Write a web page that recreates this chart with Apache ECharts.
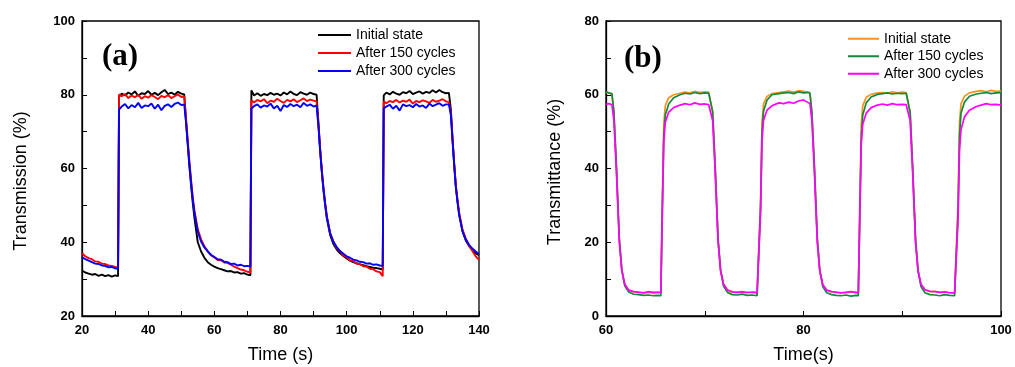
<!DOCTYPE html>
<html><head><meta charset="utf-8">
<script src="https://cdn.jsdelivr.net/npm/echarts@6/dist/echarts.min.js"></script>
<style>html,body{margin:0;padding:0;background:#fff}#c{width:1015px;height:367px}</style>
</head><body><div id="c"></div>
<script>
// ---------- Panel (a) ----------
const timeA = [20,21,22,23,24,25,26,27,28,29,30,30.9,31.2,
  32,33,34,35,36,37,38,39,40,41,42,43,44,45,46,47,48,49,50,50.9,
  51.5,52,52.5,53,53.5,54,
  55,56,57,58,59,60,61,62,63,64,65,66,67,68,69,70,70.9,71.2,
  72,73,74,75,76,77,78,79,80,81,82,83,84,85,86,87,88,89,90,90.9,
  91.5,92,92.5,93,93.5,94,
  95,96,97,98,99,100,101,102,103,104,105,106,107,108,109,110,110.9,111.2,
  112,113,114,115,116,117,118,119,120,121,122,123,124,125,126,127,128,129,130,130.9,
  131.5,132,132.5,133,133.5,134,
  135,136,137,138,139,140];
const initialA = [32.3,31.8,31.5,31.2,31.4,30.9,31.2,30.8,31.1,30.7,31.0,30.8,79.5,
  80.3,79.8,80.6,80.1,80.9,79.7,80.4,80.2,81.0,80.0,80.5,79.9,80.7,81.3,80.2,80.6,80.0,80.8,80.3,80.1,
  72,66,60,55,50.5,46.5,
  40,37.5,35.8,34.6,33.9,33.4,33.0,32.7,32.4,32.1,32.2,31.8,31.9,31.5,31.6,31.2,31.0,81.2,
  79.8,80.4,79.7,80.2,79.9,80.5,80.0,80.3,79.8,80.6,80.1,80.9,80.2,79.9,80.7,80.3,80.0,80.6,80.2,80.0,
  72,65,59,54,50,46.5,
  42,39.5,38,37,36.3,35.6,35.0,34.6,34.3,34.0,33.8,33.5,33.3,33.1,33.0,32.8,32.6,79.8,
  80.6,80.1,80.8,80.3,80.0,80.7,80.4,81.0,80.2,80.6,80.9,80.3,80.8,80.5,81.2,80.6,81.3,80.7,80.4,80.5,
  76,68,61,55,51,47.5,
  43,40.5,39,38,37,36.5];
const after150A = [37.0,36.2,35.7,35.4,34.8,34.7,34.2,34.1,33.7,33.6,33.3,33.1,80.1,
  79.6,80.2,79.1,79.8,79.3,80.0,78.9,79.6,79.2,79.9,79.4,78.8,79.7,79.3,79.9,79.1,79.6,80.1,79.4,79.6,
  73,67,61.5,56.5,52,48.5,
  43.5,40.8,38.9,37.6,36.4,35.9,35.2,35.1,34.5,34.4,33.9,33.4,33.0,32.6,32.4,32.0,31.8,78.5,
  77.9,78.6,78.2,78.8,77.7,78.4,78.1,78.9,78.3,77.8,78.6,78.2,78.8,78.0,78.5,79.0,78.3,78.7,78.4,78.2,
  71.5,65,59.5,54.5,50.5,47,
  42.5,40.2,38.4,37.5,36.4,35.9,35.1,34.9,34.2,34.1,33.5,33.4,32.8,32.7,32.1,31.9,30.8,78.2,
  77.7,78.3,78.0,78.6,77.9,78.4,78.1,78.7,77.6,78.3,78.0,78.5,78.2,77.8,78.6,78.1,78.4,78.8,78.2,78.0,
  75,68,61.5,55.5,51.5,48,
  43.5,41,39,37.6,36.2,35.2];
const after300A = [36.0,35.4,35.0,34.6,34.2,34.1,33.7,33.6,33.2,33.3,32.9,32.9,76.0,
  76.8,77.5,76.3,77.2,76.6,77.8,76.4,77.1,76.9,77.6,76.2,77.3,75.8,77.0,77.4,76.7,77.5,77.9,77.2,77.4,
  72,66.5,61,56,51.5,48,
  42.8,40.2,38.6,37.5,36.6,36.0,35.4,35.3,34.7,34.6,34.1,34.2,33.7,33.9,33.5,33.6,33.4,76.2,
  76.9,77.4,76.5,77.1,76.8,77.6,76.3,77.0,75.6,77.2,76.7,77.5,76.9,77.3,76.6,77.8,77.0,77.4,76.8,77.1,
  71,64.5,59,54.5,50.5,47,
  42.5,40.1,38.7,37.6,36.9,36.2,35.8,35.3,35.1,34.7,34.6,34.2,34.3,33.9,34.0,33.7,33.6,76.3,
  76.8,77.3,76.2,77.0,75.7,77.4,76.9,77.2,76.6,77.5,76.8,77.1,76.4,77.6,76.9,77.3,77.7,77.0,77.4,77.4,
  74.5,67.5,61,55,51,47.5,
  43,40.8,39.3,38.3,37.5,36.8];

// ---------- Panel (b) ----------
const timeB = [60,60.3,60.6,
  60.8,61.05,61.35,61.6,61.9,62.3,62.8, 63.3,63.8,64.3,64.8,65.3,65.55, 65.7,65.85,66.0,66.35,66.85,67.5, 68,68.5,69,69.5,70,70.4,70.6,
  70.8,71.05,71.35,71.6,71.9,72.3,72.8, 73.3,73.8,74.3,74.8,75.3,75.5, 75.65,75.8,75.95,76.3,76.8,77.5, 78,78.5,79,79.5,80,80.4,80.65,
  80.85,81.1,81.4,81.65,81.95,82.35,82.85, 83.3,83.8,84.3,84.8,85.3,85.55, 85.7,85.85,86.0,86.35,86.85,87.5, 88,88.5,89,89.5,90,90.4,90.6,
  90.8,91.05,91.35,91.6,91.9,92.3,92.8, 93.3,93.8,94.3,94.8,95.3,95.5, 95.65,95.8,95.95,96.3,96.8,97.5, 98,98.5,99,99.5,100];
const initialB = [60.6,60.4,60.2,
  55.0,40.5,20.5,12.5,8.6,7.0,6.5, 6.3,6.1,6.4,6.2,6.3,6.2, 31,52,57,59.2,60.0,60.4, 60.7,60.5,60.9,60.6,60.8,60.7,60.5,
  55.2,40.8,20.8,12.6,8.7,7.1,6.6, 6.4,6.2,6.5,6.3,6.2,6.3, 31,52.5,57.5,59.5,60.3,60.6, 60.8,61.0,60.7,61.1,60.9,60.8,60.6,
  55.0,40.5,20.5,12.4,8.6,7.0,6.5, 6.3,6.2,6.4,6.5,6.3,6.2, 30,52,57,59.3,60.1,60.5, 60.6,60.4,60.8,60.5,60.7,60.6,60.4,
  55.0,40.3,20.3,12.3,8.5,7.2,6.6, 6.7,6.4,6.6,6.3,6.2,6.2, 31,52.5,57.5,59.6,60.5,60.9, 61.1,60.8,61.2,60.9,61.0];
const after150B = [60.8,60.5,60.3,
  55.5,41,21,12.5,8.2,6.5,5.9, 5.8,5.6,5.7,5.5,5.6,5.5, 28,49,54.5,57.5,59.2,60.0, 60.4,60.2,60.6,60.3,60.5,60.4,60.2,
  55.5,41,21,12.5,8.1,6.4,5.8, 5.7,5.9,5.6,5.7,5.5,5.6, 29,50,55.5,58.5,60.0,60.3, 60.5,60.6,60.3,60.8,60.5,60.6,60.4,
  55.3,41,21,12.3,8.0,6.3,5.8, 5.6,5.5,5.7,5.4,5.6,5.5, 27,48.5,54.5,57.8,59.4,60.1, 60.3,60.5,60.2,60.4,60.3,60.4,60.2,
  55.3,40.8,20.8,12.3,8.0,6.3,5.8, 5.7,5.5,5.8,5.6,5.5,5.6, 28,49,55,58,59.6,60.2, 60.4,60.6,60.3,60.5,60.6];
const after300B = [57.4,57.6,57.3,
  53,39.5,20,12.3,8.6,7.0,6.6, 6.5,6.3,6.6,6.4,6.5,6.3, 28,47,52.5,55.3,56.5,57.2, 57.6,57.3,57.8,57.4,57.5,57.3,57.2,
  53,39.5,20,12.3,8.6,7.0,6.5, 6.4,6.6,6.3,6.5,6.4,6.4, 28,47.5,53,55.8,57.0,57.8, 57.6,58.0,57.7,58.3,58.6,58.0,57.6,
  53,39.3,19.8,12.2,8.5,7.0,6.6, 6.5,6.3,6.4,6.6,6.4,6.3, 27,46.5,52,55,56.5,57.2, 57.5,57.2,57.6,57.3,57.4,57.3,57.1,
  53,39,19.8,12.2,8.6,7.1,6.7, 6.6,6.4,6.5,6.3,6.3,6.2, 26,45,50.5,54,55.8,56.8, 57.2,57.6,57.3,57.4,57.2];

const seriesNames = ['Initial state', 'After 150 cycles', 'After 300 cycles'];
const xLabelsA = [20, 40, 60, 80, 100, 120, 140];
const yLabelsA = [20, 40, 60, 80, 100];
const xLabelsB = [60, 80, 100];
const yLabelsB = [0, 20, 40, 60, 80];

const colorsA = ['#000000', '#ff0000', '#0000ff'];
const colorsB = ['#f7931e', '#13893c', '#ff00ff'];

const FONT = '"Liberation Sans", Arial, sans-serif';
const zip = (t, v) => t.map((x, i) => [x, v[i]]);

function xAxis(grid, min, max, labels, name) {
  return {
    type: 'value', gridIndex: grid, min: min, max: max, interval: 10,
    axisLine: { show: true, onZero: false, lineStyle: { color: '#000', width: 1.3 } },
    axisTick: { show: true, inside: true, length: 5, lineStyle: { color: '#000', width: 1 } },
    axisLabel: { formatter: v => labels.includes(v) ? String(v) : '', fontWeight: 'bold', fontSize: 13, color: '#000', margin: 8, fontFamily: FONT },
    splitLine: { show: false },
    name: name, nameLocation: 'middle', nameGap: 30,
    nameTextStyle: { fontSize: 18, color: '#000', fontFamily: FONT }
  };
}
function yAxis(grid, min, max, labels, name, gap, pad) {
  return {
    type: 'value', gridIndex: grid, min: min, max: max, interval: 10,
    axisLine: { show: true, onZero: false, lineStyle: { color: '#000', width: 1.3 } },
    axisTick: { show: true, inside: true, length: 5, lineStyle: { color: '#000', width: 1 } },
    axisLabel: { formatter: v => labels.includes(v) ? String(v) : '', fontWeight: 'bold', fontSize: 13, color: '#000', margin: 7, fontFamily: FONT },
    splitLine: { show: false },
    name: name, nameLocation: 'middle', nameGap: gap,
    nameTextStyle: { fontSize: 18, color: '#000', fontFamily: FONT, padding: pad }
  };
}

const seriesA = [initialA, after150A, after300A].map((v, i) => ({
  type: 'line', name: 'a:' + seriesNames[i], xAxisIndex: 0, yAxisIndex: 0,
  data: zip(timeA, v), showSymbol: false, symbol: 'none', animation: false,
  lineStyle: { color: colorsA[i], width: 1.9 }, itemStyle: { color: colorsA[i] }, z: 2 + i
}));
const seriesB = [initialB, after150B, after300B].map((v, i) => ({
  type: 'line', name: 'b:' + seriesNames[i], xAxisIndex: 1, yAxisIndex: 1,
  data: zip(timeB, v), showSymbol: false, symbol: 'none', animation: false,
  lineStyle: { color: colorsB[i], width: 1.7 }, itemStyle: { color: colorsB[i] }, z: 2 + i
}));

const legendBase = {
  orient: 'vertical', icon: 'rect', itemHeight: 2, itemGap: 0, padding: 0,
  formatter: n => n.slice(2), selectedMode: false,
  textStyle: { fontSize: 14, color: '#000', fontFamily: FONT }
};

const option = {
  animation: false,
  backgroundColor: '#fff',
  textStyle: { fontFamily: FONT },
  title: [
    { text: '(a)', left: 102, top: 41, padding: 0,
      textStyle: { fontFamily: '"Liberation Serif", "Times New Roman", serif', fontWeight: 'bold', fontSize: 31, color: '#000' } },
    { text: '(b)', left: 624, top: 43, padding: 0,
      textStyle: { fontFamily: '"Liberation Serif", "Times New Roman", serif', fontWeight: 'bold', fontSize: 31, color: '#000' } }
  ],
  legend: [
    Object.assign({}, legendBase, { left: 318, top: 26, itemWidth: 33,
      data: seriesA.map(s => s.name), textStyle: Object.assign({}, legendBase.textStyle, { lineHeight: 18 }) }),
    Object.assign({}, legendBase, { left: 848, top: 30, itemWidth: 31,
      data: seriesB.map(s => s.name), textStyle: Object.assign({}, legendBase.textStyle, { lineHeight: 17.5 }) })
  ],
  grid: [
    { left: 82, right: 536, top: 21, bottom: 51, show: true, borderColor: '#000', borderWidth: 1.3, outerBoundsMode: 'none', containLabel: false },
    { left: 606, right: 14, top: 21, bottom: 51, show: true, borderColor: '#000', borderWidth: 1.3, outerBoundsMode: 'none', containLabel: false }
  ],
  xAxis: [
    xAxis(0, 20, 140, xLabelsA, 'Time (s)'),
    xAxis(1, 60, 100, xLabelsB, 'Time(s)')
  ],
  yAxis: [
    yAxis(0, 20, 100, yLabelsA, 'Transmission (%)', 52, [0, 25, 0, 0]),
    yAxis(1, 0, 80, yLabelsB, 'Transmittance (%)', 42, [0, 7, 0, 0])
  ],
  series: seriesA.concat(seriesB)
};

const chart = echarts.init(document.getElementById('c'), null, { renderer: 'canvas' });
chart.setOption(option);
</script>
</body></html>
